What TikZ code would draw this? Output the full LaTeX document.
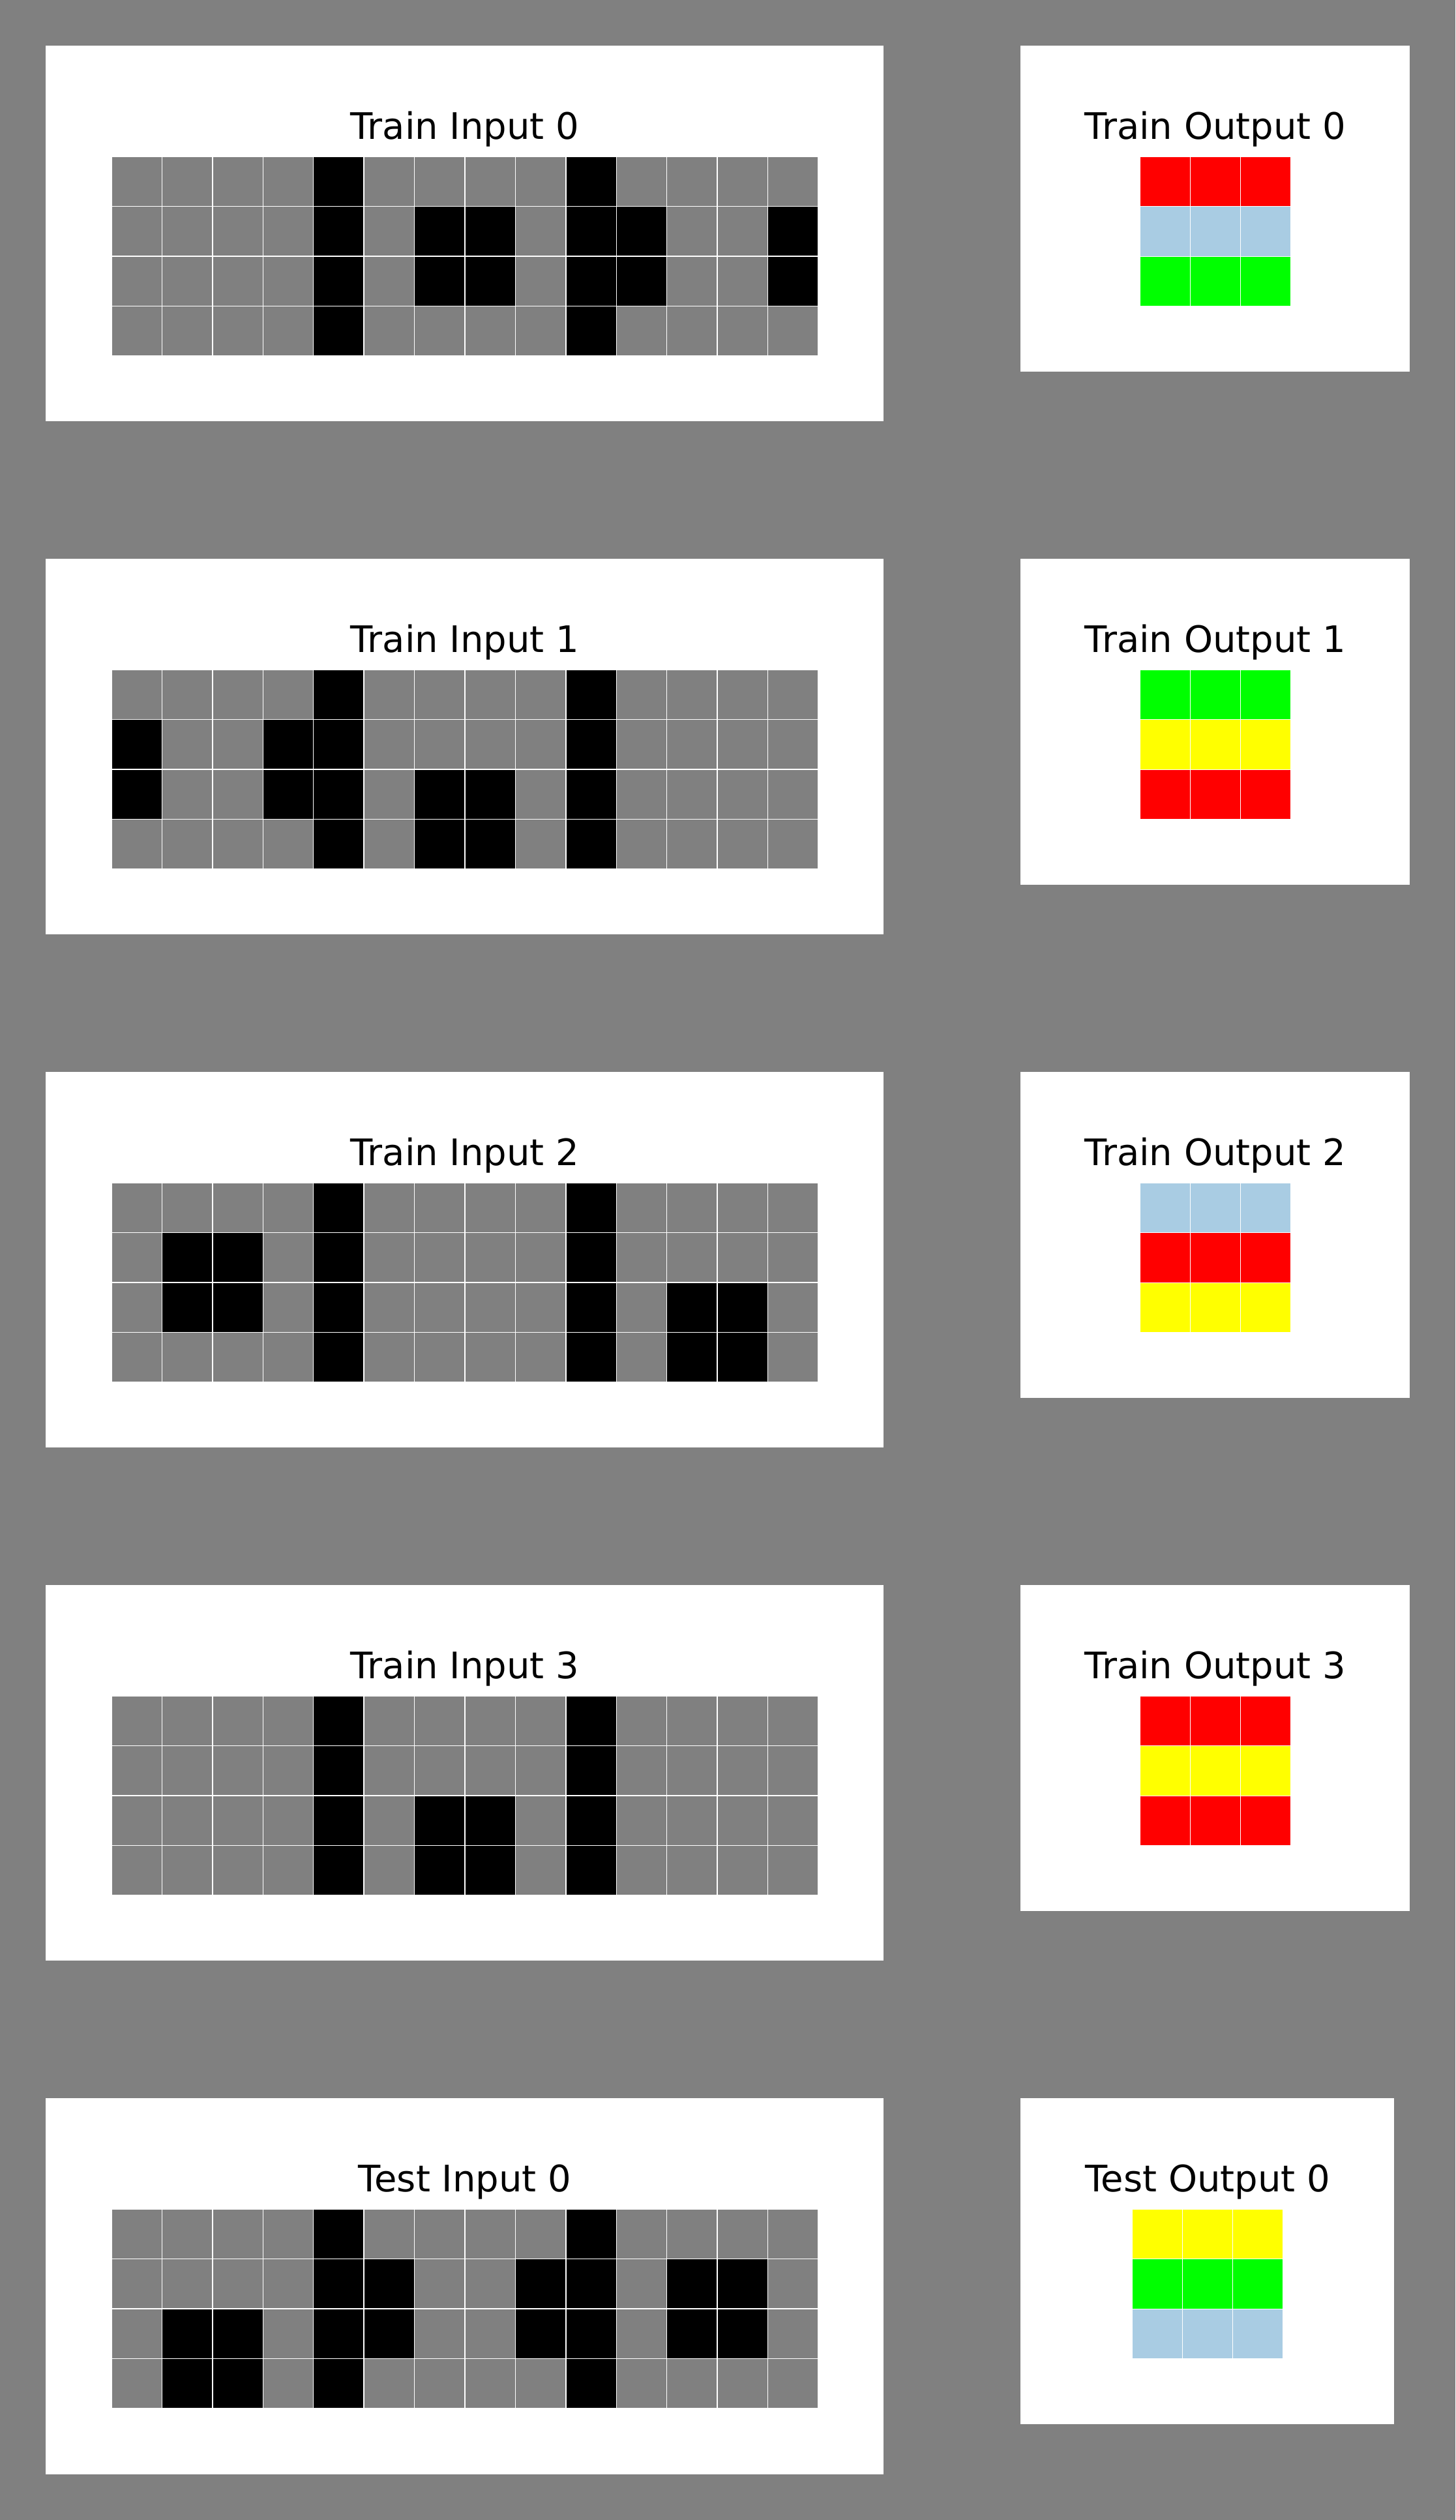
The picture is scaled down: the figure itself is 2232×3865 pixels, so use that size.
\documentclass[tikz,border=0pt]{standalone}
\usepackage{fontspec}
\setmainfont{DejaVu Sans}
\definecolor{bggray}{HTML}{808080}
\definecolor{arcgray}{HTML}{808080}
\definecolor{arcred}{HTML}{FF0000}
\definecolor{arcgreen}{HTML}{00FF00}
\definecolor{arcyellow}{HTML}{FFFF00}
\definecolor{arcblue}{HTML}{A9CCE3}
\tikzset{
  panel/.style={fill=white},
  gridline/.style={draw=white, line width=0.45pt},
  titletext/.style={font=\fontsize{16.8}{20}\selectfont, anchor=base, inner sep=0pt, text=black}
}
% input grid: #1 = panel top, #2 = rows with black cells
\newcommand{\drawingrid}[2]{%
  \fill[arcgray] (171,#1+170) rectangle (1255,#1+476);
  \foreach \r/\cells in #2 {%
    \foreach \c in \cells {%
      \fill[black] ({171+\c*77.4286},{#1+170+\r*76.5}) rectangle ++(77.4286,76.5);
    }%
  }%
  \foreach \i in {0,...,14} {\draw[gridline] ({171+\i*77.4286},#1+170) -- ++(0,306);}
  \foreach \j in {0,...,4} {\draw[gridline] (171,{#1+170+\j*76.5}) -- ++(1084,0);}
}
% output grid: #1 = panel top, #2 = left x, #3,#4,#5 = row colours
\newcommand{\drawoutgrid}[5]{%
  \fill[#3] (#2,#1+170) rectangle ++(232,76.667);
  \fill[#4] (#2,#1+246.667) rectangle ++(232,76.667);
  \fill[#5] (#2,#1+323.333) rectangle ++(232,76.667);
  \foreach \i in {0,...,3} {\draw[gridline] ({#2+\i*77.333},#1+170) -- ++(0,230);}
  \foreach \j in {0,...,3} {\draw[gridline] (#2,{#1+170+\j*76.667}) -- ++(232,0);}
}
\begin{document}
\begin{tikzpicture}[x=0.3pt,y=-0.3pt]
\fill[bggray] (0,0) rectangle (2232,3865);
\useasboundingbox (0,0) rectangle (2232,3865);

% ---- Row 0
\fill[panel] (70,70) rectangle (1355,646);
\node[titletext] (tin0) at (713,213) {Train Input 0};
\drawingrid{70}{{0/{4,9},1/{4,6,7,9,10,13},2/{4,6,7,9,10,13},3/{4,9}}}
\fill[panel] (1565,70) rectangle (2162,570);
\node[titletext] (tout0) at (1864,213) {Train Output 0};
\drawoutgrid{70}{1748}{arcred}{arcblue}{arcgreen}

% ---- Row 1
\fill[panel] (70,857) rectangle (1355,1433);
\node[titletext] (tin1) at (713,1000) {Train Input 1};
\drawingrid{857}{{0/{4,9},1/{0,3,4,9},2/{0,3,4,6,7,9},3/{4,6,7,9}}}
\fill[panel] (1565,857) rectangle (2162,1357);
\node[titletext] (tout1) at (1864,1000) {Train Output 1};
\drawoutgrid{857}{1748}{arcgreen}{arcyellow}{arcred}

% ---- Row 2
\fill[panel] (70,1644) rectangle (1355,2220);
\node[titletext] (tin2) at (713,1787) {Train Input 2};
\drawingrid{1644}{{0/{4,9},1/{1,2,4,9},2/{1,2,4,9,11,12},3/{4,9,11,12}}}
\fill[panel] (1565,1644) rectangle (2162,2144);
\node[titletext] (tout2) at (1864,1787) {Train Output 2};
\drawoutgrid{1644}{1748}{arcblue}{arcred}{arcyellow}

% ---- Row 3
\fill[panel] (70,2431) rectangle (1355,3007);
\node[titletext] (tin3) at (713,2574) {Train Input 3};
\drawingrid{2431}{{0/{4,9},1/{4,9},2/{4,6,7,9},3/{4,6,7,9}}}
\fill[panel] (1565,2431) rectangle (2162,2931);
\node[titletext] (tout3) at (1864,2574) {Train Output 3};
\drawoutgrid{2431}{1748}{arcred}{arcyellow}{arcred}

% ---- Test
\fill[panel] (70,3218) rectangle (1355,3795);
\node[titletext] (testin0) at (713,3361) {Test Input 0};
\drawingrid{3218}{{0/{4,9},1/{4,5,8,9,11,12},2/{1,2,4,5,8,9,11,12},3/{1,2,4,9}}}
\fill[panel] (1565,3218) rectangle (2138,3718);
\node[titletext] (testout0) at (1852,3361) {Test Output 0};
\drawoutgrid{3218}{1736}{arcyellow}{arcgreen}{arcblue}
\end{tikzpicture}
\end{document}
